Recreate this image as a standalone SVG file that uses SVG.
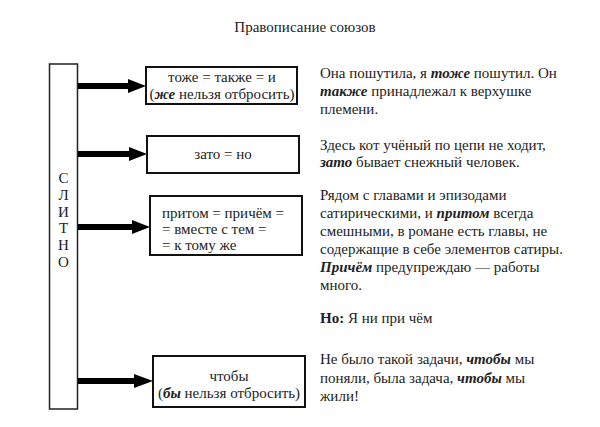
<svg xmlns="http://www.w3.org/2000/svg" width="600" height="427" viewBox="0 0 600 427">
<style>
text{font-family:"Liberation Serif","Times New Roman",serif;fill:#222}
.t{font-size:15px}
.r{font-size:15px}
.bi{font-weight:bold;font-style:italic}
.b{font-weight:bold}
.box{fill:#fff;stroke:#111;stroke-width:2}
.bar{fill:#fff;stroke:#222;stroke-width:1.5}
.ln{stroke:#000;stroke-width:6}
.hd{fill:#000}
</style>
<rect width="600" height="427" fill="#fff"/>
<text class="t" x="305" y="32" text-anchor="middle">Правописание союзов</text>

<g id="slitno">
<rect class="bar" x="49.5" y="64" width="28" height="345"/>
<g font-size="15" text-anchor="middle">
<text x="63.5" y="183">С</text>
<text x="63.5" y="200">Л</text>
<text x="63.5" y="217">И</text>
<text x="63.5" y="233">Т</text>
<text x="63.5" y="250">Н</text>
<text x="63.5" y="267">О</text>
</g>
</g>

<g id="connectors">
<line class="ln" x1="78" y1="86" x2="130" y2="86"/>
<polygon class="hd" points="128,79 146,86 128,93"/>
<line class="ln" x1="78" y1="154" x2="131" y2="154"/>
<polygon class="hd" points="129,147 147,154 129,161"/>
<line class="ln" x1="78" y1="227" x2="134" y2="227"/>
<polygon class="hd" points="132,220 150,227 132,234"/>
<line class="ln" x1="78" y1="381" x2="136" y2="381"/>
<polygon class="hd" points="134,374 153,381 134,388"/>
</g>

<g id="n1">
<rect class="box" x="146" y="67" width="151" height="37"/>
<text class="t" x="222" y="82" text-anchor="middle">тоже = также = и</text>
<text class="t" x="222" y="99" text-anchor="middle">(<tspan class="bi">же</tspan> нельзя отбросить)</text>
</g>
<g id="n2">
<rect class="box" x="147" y="136" width="152" height="37"/>
<text class="t" x="223" y="159" text-anchor="middle">зато = но</text>
</g>
<g id="n3">
<rect class="box" x="150" y="196" width="152" height="59"/>
<text class="t" x="162" y="218">притом = причём =</text>
<text class="t" x="162" y="234">= вместе с тем =</text>
<text class="t" x="162" y="250">= к тому же</text>
</g>
<g id="n4">
<rect class="box" x="153" y="356" width="152" height="51"/>
<text class="t" x="229" y="381" text-anchor="middle">чтобы</text>
<text class="t" x="229" y="398" text-anchor="middle">(<tspan class="bi">бы</tspan> нельзя отбросить)</text>
</g>

<g id="examples" class="r">
<text x="320" y="78">Она пошутила, я <tspan class="bi">тоже</tspan> пошутил. Он</text>
<text x="320" y="96"><tspan class="bi">также</tspan> принадлежал к верхушке</text>
<text x="320" y="114">племени.</text>
<text x="320" y="150">Здесь кот учёный по цепи не ходит,</text>
<text x="320" y="167"><tspan class="bi">зато</tspan> бывает снежный человек.</text>
<text x="320" y="200">Рядом с главами и эпизодами</text>
<text x="320" y="218">сатирическими, и <tspan class="bi">притом</tspan> всегда</text>
<text x="320" y="236">смешными, в романе есть главы, не</text>
<text x="320" y="254">содержащие в себе элементов сатиры.</text>
<text x="320" y="272"><tspan class="bi">Причём</tspan> предупреждаю — работы</text>
<text x="320" y="290">много.</text>
<text x="320" y="323"><tspan class="b">Но:</tspan> Я ни при чём</text>
<text x="320" y="364">Не было такой задачи, <tspan class="bi">чтобы</tspan> мы</text>
<text x="320" y="383">поняли, была задача, <tspan class="bi">чтобы</tspan> мы</text>
<text x="320" y="401">жили!</text>
</g>
</svg>
